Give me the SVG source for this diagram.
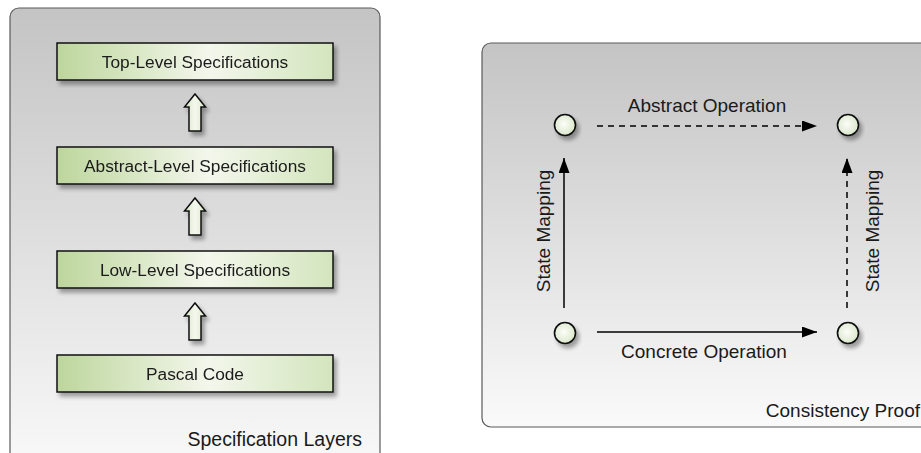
<svg xmlns="http://www.w3.org/2000/svg" width="921" height="453" viewBox="0 0 921 453">
  <defs>
    <linearGradient id="panelFill" x1="0" y1="0" x2="0" y2="1">
      <stop offset="0" stop-color="#c4c4c4"/>
      <stop offset="1" stop-color="#fafafa"/>
    </linearGradient>
    <linearGradient id="boxFill" x1="0" y1="0" x2="1" y2="0">
      <stop offset="0" stop-color="#bdd69c"/>
      <stop offset="0.55" stop-color="#f3f7ec"/>
      <stop offset="1" stop-color="#d3e5bd"/>
    </linearGradient>
    <linearGradient id="arrowFill" x1="0" y1="0" x2="1" y2="0">
      <stop offset="0" stop-color="#d6e6c2"/>
      <stop offset="0.5" stop-color="#f4f8ee"/>
      <stop offset="1" stop-color="#dbe9c9"/>
    </linearGradient>
    <radialGradient id="dotFill" cx="0.45" cy="0.45" r="0.6">
      <stop offset="0" stop-color="#fbfdf8"/>
      <stop offset="1" stop-color="#d9e6c8"/>
    </radialGradient>
    <filter id="shadow" x="-20%" y="-30%" width="150%" height="180%">
      <feGaussianBlur in="SourceAlpha" stdDeviation="2"/>
      <feOffset dx="3" dy="4" result="b"/>
      <feComponentTransfer><feFuncA type="linear" slope="0.35"/></feComponentTransfer>
      <feMerge><feMergeNode/><feMergeNode in="SourceGraphic"/></feMerge>
    </filter>
    <marker id="head" viewBox="0 0 15 11" refX="15" refY="5.5" markerWidth="15" markerHeight="11" markerUnits="userSpaceOnUse" orient="auto">
      <path d="M0,0 L15,5.5 L0,11 Z" fill="#000"/>
    </marker>
  </defs>
  <style>
    .panel { fill: url(#panelFill); stroke: #5a5a5a; stroke-width: 1.2; }
    .box { fill: url(#boxFill); stroke: #111; stroke-width: 1.5; }
    .up { fill: url(#arrowFill); stroke: #111; stroke-width: 1.5; stroke-linejoin: miter; }
    .dot { fill: url(#dotFill); stroke: #111; stroke-width: 1.6; }
    .lbl { font-family: "Liberation Sans", Arial, sans-serif; fill: #1a1a1a; }
    .boxText { font-size: 17.3px; text-anchor: middle; }
    .edge { stroke: #000; stroke-width: 1.5; fill: none; marker-end: url(#head); }
    .dash { stroke-dasharray: 6 5; }
  </style>

  <!-- Panels -->
  <g id="specification-layers">
    <rect class="panel" x="10" y="8" width="370" height="470" rx="9"/>
    <text class="lbl" x="362" y="446" font-size="19.5" text-anchor="end">Specification Layers</text>
  </g>
  <g id="consistency-proof">
    <rect class="panel" x="482" y="43" width="460" height="384" rx="9"/>
    <text class="lbl" x="920" y="417" font-size="19" text-anchor="end">Consistency Proof</text>
  </g>

  <!-- Layer boxes -->
  <g id="top-level" filter="url(#shadow)">
    <rect class="box" x="57" y="43" width="276" height="37"/>
    <text class="lbl boxText" x="195" y="67.5">Top-Level Specifications</text>
  </g>
  <g id="abstract-level" filter="url(#shadow)">
    <rect class="box" x="57" y="147" width="276" height="37"/>
    <text class="lbl boxText" x="195" y="171.5">Abstract-Level Specifications</text>
  </g>
  <g id="low-level" filter="url(#shadow)">
    <rect class="box" x="57" y="251" width="276" height="37"/>
    <text class="lbl boxText" x="195" y="275.5">Low-Level Specifications</text>
  </g>
  <g id="pascal-code" filter="url(#shadow)">
    <rect class="box" x="57" y="355" width="276" height="37"/>
    <text class="lbl boxText" x="195" y="379.5">Pascal Code</text>
  </g>

  <!-- State nodes -->
  <g id="abstract-pre" filter="url(#shadow)"><circle class="dot" cx="565" cy="125" r="10.5"/></g>
  <g id="abstract-post" filter="url(#shadow)"><circle class="dot" cx="848" cy="125" r="10.5"/></g>
  <g id="concrete-pre" filter="url(#shadow)"><circle class="dot" cx="565" cy="333" r="10.5"/></g>
  <g id="concrete-post" filter="url(#shadow)"><circle class="dot" cx="848" cy="333" r="10.5"/></g>

  <!-- Connectors -->
  <g id="connectors">
    <g filter="url(#shadow)">
      <path class="up" d="M195,94 L205.5,107 L201,107 L201,131 L189,131 L189,107 L184.5,107 Z"/>
      <path class="up" d="M195,198 L205.5,211 L201,211 L201,235 L189,235 L189,211 L184.5,211 Z"/>
      <path class="up" d="M195,303 L205.5,316 L201,316 L201,340 L189,340 L189,316 L184.5,316 Z"/>
    </g>
    <line class="edge dash" x1="597" y1="126" x2="817" y2="126"/>
    <line class="edge" x1="597" y1="332" x2="817" y2="332"/>
    <line class="edge" x1="564" y1="308" x2="564" y2="158"/>
    <line class="edge dash" x1="847" y1="308" x2="847" y2="158"/>
    <text class="lbl" x="707" y="112" font-size="19" text-anchor="middle">Abstract Operation</text>
    <text class="lbl" x="704" y="358" font-size="19" text-anchor="middle">Concrete Operation</text>
    <text class="lbl" transform="translate(550,231) rotate(-90)" font-size="19" text-anchor="middle">State Mapping</text>
    <text class="lbl" transform="translate(879,231) rotate(-90)" font-size="19" text-anchor="middle">State Mapping</text>
  </g>
</svg>
